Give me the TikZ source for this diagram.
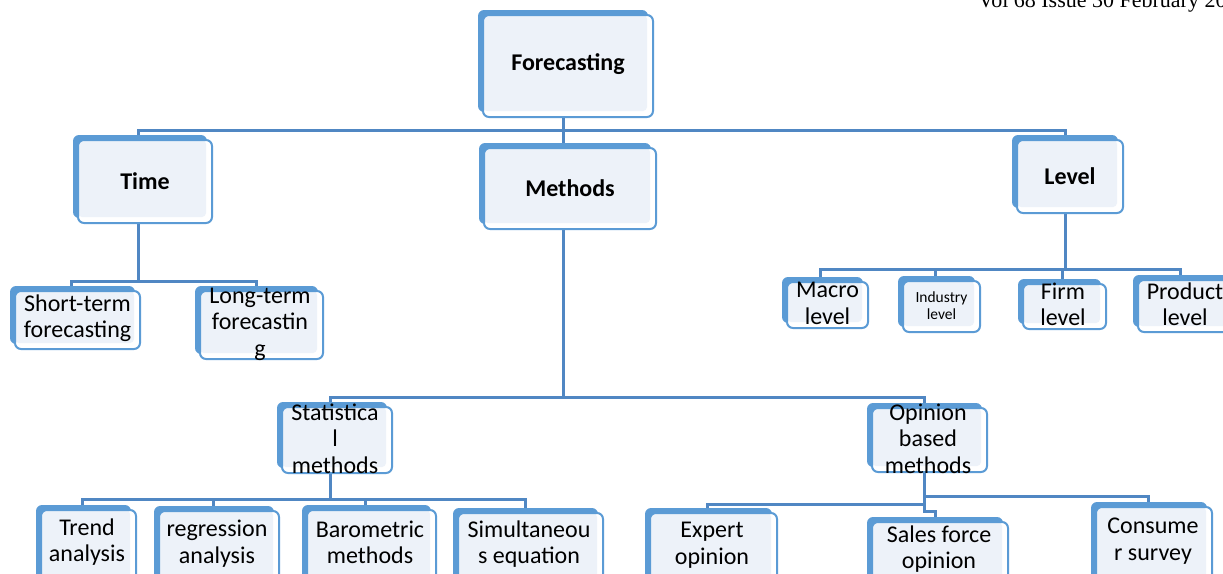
\documentclass[tikz,border=0pt]{standalone}
\usepackage{fontspec}
\setmainfont{Carlito}
\newfontfamily\headfont{Liberation Serif}
\usetikzlibrary{shadows,backgrounds}
\definecolor{boxblue}{RGB}{91,155,213}
\definecolor{boxfill}{RGB}{237,242,249}
\definecolor{linkblue}{RGB}{80,135,195}

\begin{document}
\begin{tikzpicture}[x=1pt,y=-1pt,
  card/.style={rectangle, rounded corners=6pt, draw=boxblue, line width=2pt,
    fill=white, inner sep=0pt,
    general shadow={fill=boxblue, shadow xshift=-5pt, shadow yshift=5pt},
    path picture={\fill[boxfill, rounded corners=4pt]
      (path picture bounding box.north west) rectangle
      ([xshift=-6pt,yshift=6pt]path picture bounding box.south east);}},
  headtxt/.style={font=\fontsize{24}{28}\selectfont\bfseries, inner sep=0pt},
  bodytxt/.style={font=\fontsize{24}{26.5}\selectfont, align=center, inner sep=0pt},
  smalltxt/.style={font=\fontsize{15.5}{17.5}\selectfont, align=center, inner sep=0pt},
  conn/.style={draw=linkblue, line width=3pt}
]
\useasboundingbox (0,0) rectangle (1223,573);
\clip (0,0) rectangle (1223,573);

% running header
\node[font=\headfont\fontsize{22}{24}\selectfont, anchor=base west, inner sep=0pt]
  (hdr) at (978,7) {Vol 68 Issue 30 February 20};

% top level
\node[card, minimum width=170pt, minimum height=102pt,
  label={[headtxt, yshift=2pt]center:Forecasting}] (fc) at (568,66) {};
\node[card, minimum width=134pt, minimum height=83pt,
  label={[headtxt]center:Time}] (time) at (145,181.5) {};
\node[card, minimum width=172pt, minimum height=81pt,
  label={[headtxt]center:Methods}] (meth) at (570,188.5) {};
\node[card, minimum width=106pt, minimum height=73pt,
  label={[headtxt]center:Level}] (level) at (1070,176.5) {};

% time horizon
\node[card, minimum width=125pt, minimum height=58pt,
  label={[bodytxt, yshift=2pt]center:Short-term\\forecasting}] (short) at (77.5,320) {};
\node[card, minimum width=123pt, minimum height=68pt,
  label={[bodytxt, xshift=-1.5pt, yshift=1pt]center:Long-term\\forecastin\\g}] (long) at (261.5,325) {};

% level
\node[card, minimum width=81pt, minimum height=46pt,
  label={[bodytxt, yshift=1.5pt]center:Macro\\level}] (macro) at (827.5,305) {};
\node[card, minimum width=77pt, minimum height=51pt,
  label={[smalltxt, yshift=1pt]center:Industry\\level}] (industry) at (941.5,306.5) {};
\node[card, minimum width=83pt, minimum height=45pt,
  label={[bodytxt, xshift=-1.5pt, yshift=2pt]center:Firm\\level}] (firm) at (1064.5,306.5) {};
\node[card, minimum width=102pt, minimum height=52pt,
  label={[bodytxt, xshift=-4pt, yshift=2pt]center:Product\\level}] (product) at (1189,306) {};

% method families
\node[card, minimum width=110pt, minimum height=66pt,
  label={[bodytxt, xshift=-2pt, yshift=1.3pt]center:Statistica\\l\\methods}] (stat) at (337,440) {};
\node[card, minimum width=115pt, minimum height=64pt,
  label={[bodytxt, xshift=-1.5pt, yshift=1.5pt]center:Opinion\\based\\methods}] (opin) at (929.5,440) {};

% statistical methods
\node[card, minimum width=95pt, minimum height=90pt,
  label={[bodytxt, xshift=-1.5pt, yshift=13pt]center:Trend\\analysis}] (trend) at (88.5,555) {};
\node[card, minimum width=120pt, minimum height=89pt,
  label={[bodytxt, xshift=-2pt, yshift=12pt]center:regression\\analysis}] (regr) at (219,555.5) {};
\node[card, minimum width=129pt, minimum height=90pt,
  label={[bodytxt, xshift=-1.5pt, yshift=12.5pt]center:Barometric\\methods}] (baro) at (371.5,555) {};
\node[card, minimum width=145pt, minimum height=87pt,
  label={[bodytxt, xshift=-1.5pt, yshift=12.5pt]center:Simultaneou\\s equation}] (simul) at (530.5,556.5) {};

% opinion based methods
\node[card, minimum width=127pt, minimum height=87pt,
  label={[bodytxt, xshift=-1.5pt, yshift=11.5pt]center:Expert\\opinion}] (expert) at (713.5,556.5) {};
\node[card, minimum width=136pt, minimum height=78pt,
  label={[bodytxt, xshift=-1pt, yshift=12pt]center:Sales force\\opinion}] (sales) at (940,561) {};
\node[card, minimum width=116pt, minimum height=93pt,
  label={[bodytxt, xshift=-1pt, yshift=12.5pt]center:Consume\\r survey}] (cons) at (1154,553.5) {};

% connectors, behind the cards
\begin{scope}[on background layer]
  \draw[conn] ([xshift=-5pt]fc.south) -- ++(0,12) -| ([xshift=-7pt]time.north);
  \draw[conn] ([xshift=-5pt]fc.south) -- ++(0,12) -| ([xshift=-7pt]meth.north);
  \draw[conn] ([xshift=-5pt]fc.south) -- ++(0,12) -| ([xshift=-5pt]level.north);

  \draw[conn] ([xshift=-7pt]time.south) -- ++(0,57) -| ([xshift=-6.5pt]short.north);
  \draw[conn] ([xshift=-7pt]time.south) -- ++(0,57) -| ([xshift=-5.5pt]long.north);

  \draw[conn] ([xshift=-5pt]level.south) -- ++(0,55) -| ([xshift=-7.5pt]macro.north);
  \draw[conn] ([xshift=-5pt]level.south) -- ++(0,55) -| ([xshift=-6.5pt]industry.north);
  \draw[conn] ([xshift=-5pt]level.south) -- ++(0,55) -| ([xshift=-2.5pt]firm.north);
  \draw[conn] ([xshift=-5pt]level.south) -- ++(0,55) -| ([xshift=-9pt]product.north);

  \draw[conn] ([xshift=-7pt]meth.south) -- ++(0,167) -| ([xshift=-7pt]stat.north);
  \draw[conn] ([xshift=-7pt]meth.south) -- ++(0,167) -| ([xshift=-5.5pt]opin.north);

  \draw[conn] ([xshift=-7pt]stat.south) -- ++(0,25) -| ([xshift=-6.5pt]trend.north);
  \draw[conn] ([xshift=-7pt]stat.south) -- ++(0,25) -| ([xshift=-6pt]regr.north);
  \draw[conn] ([xshift=-7pt]stat.south) -- ++(0,25) -| ([xshift=-6.5pt]baro.north);
  \draw[conn] ([xshift=-7pt]stat.south) -- ++(0,25) -| ([xshift=-5.5pt]simul.north);

  \draw[conn] ([xshift=-5.5pt]opin.south) -- ++(0,31) -| ([xshift=-6.5pt]expert.north);
  \draw[conn] ([xshift=-5.5pt]opin.south) -- ++(0,38) -| ([xshift=-5pt]sales.north);
  \draw[conn] ([xshift=-5.5pt]opin.south) -- ++(0,23) -| ([xshift=-6pt]cons.north);
\end{scope}
\end{tikzpicture}
\end{document}
